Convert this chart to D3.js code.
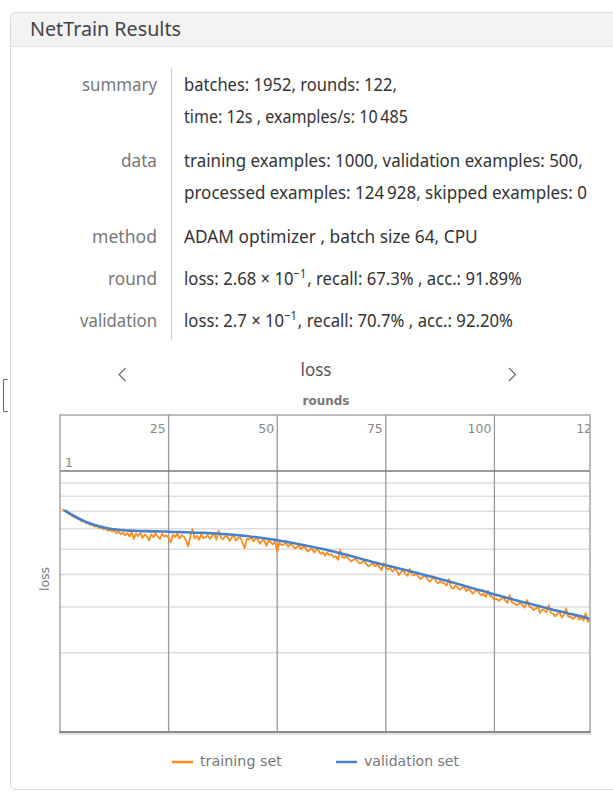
<!DOCTYPE html>
<html><head><meta charset="utf-8">
<script src="https://cdn.jsdelivr.net/npm/d3@7"></script>
<style>
html,body{margin:0;padding:0;background:#fff;}
svg{display:block;}
</style></head>
<body>
<script>
// ---------- data ----------
const roundTicks = [25, 50, 75, 100, 125];
const yMajorTicks = [1];
const yMinorGrid = [0.9, 0.8, 0.7, 0.6, 0.5, 0.4, 0.3, 0.2];
const totalRounds = 122;
const validationLoss = [
  .707,.690,.675,.661,.648,.637,.628,.620,.613,.607,
  .602,.598,.595,.593,.591,.590,.589,.588,.587,.587,
  .586,.586,.585,.585,.584,.583,.583,.582,.581,.580,
  .579,.579,.578,.577,.576,.575,.573,.572,.570,.568,
  .566,.564,.562,.559,.557,.554,.551,.548,.545,.542,
  .538,.535,.531,.527,.523,.519,.515,.511,.507,.503,
  .499,.494,.490,.485,.480,.476,.471,.466,.461,.456,
  .452,.447,.443,.438,.434,.430,.426,.422,.418,.414,
  .410,.406,.402,.398,.394,.390,.386,.382,.378,.374,
  .370,.366,.362,.358,.354,.350,.347,.343,.339,.335,
  .332,.328,.325,.322,.318,.315,.312,.309,.306,.303,
  .300,.297,.294,.291,.289,.286,.283,.281,.278,.276,
  .273,.270
];
// training loss, two readings per round (rounds 0.5, 1, 1.5, ... 122)
const trainingStep = 0.5;
const trainingLoss = [
  .712,.702,.696,.684,.679,.668,.664,.655,.651,.640,.640,.630,.630,.620,.622,.611,.614,.604,.606,.597,
  .601,.590,.594,.586,.589,.576,.585,.571,.580,.565,.577,.560,.581,.548,.574,.562,.578,.553,.570,.560,
  .541,.571,.556,.575,.561,.548,.573,.559,.566,.552,.532,.569,.558,.574,.549,.566,.560,.540,.513,.562,
  .598,.551,.563,.544,.570,.552,.556,.567,.548,.563,.575,.544,.590,.556,.546,.560,.562,.538,.555,.566,
  .540,.553,.556,.530,.504,.548,.545,.557,.536,.550,.548,.525,.539,.543,.515,.540,.532,.522,.535,.488,
  .530,.519,.521,.530,.512,.524,.518,.503,.509,.519,.500,.512,.506,.490,.498,.503,.486,.499,.495,.480,
  .487,.472,.485,.476,.478,.466,.470,.455,.497,.466,.463,.470,.458,.449,.455,.460,.448,.441,.445,.452,
  .438,.430,.436,.443,.430,.437,.427,.415,.442,.426,.418,.424,.410,.421,.414,.398,.409,.415,.402,.395,
  .420,.401,.396,.403,.392,.384,.390,.397,.386,.376,.381,.393,.378,.370,.376,.372,.370,.362,.384,.357,
  .352,.362,.358,.349,.355,.360,.345,.352,.347,.337,.344,.349,.339,.332,.337,.328,.346,.331,.328,.320,
  .323,.316,.322,.326,.318,.311,.333,.313,.311,.305,.308,.312,.304,.298,.319,.301,.299,.292,.296,.301,
  .284,.293,.291,.286,.305,.285,.283,.276,.282,.287,.273,.280,.296,.275,.276,.270,.273,.281,.268,.273,
  .266,.284,.263,.268
];
const seriesNames = ["training set", "validation set"];
const seriesColors = ["#ff8c1a", "#4a80c8"];

const infoLabels = ["summary", "data", "method", "round", "validation"];
const infoLines = [
  [["batches: 1952, rounds: 122,"], ["time: 12s , examples/s: 10\u2009485"]],
  [["training examples: 1000, validation examples: 500,"], ["processed examples: 124\u2009928, skipped examples: 0"]],
  [["ADAM optimizer , batch size 64, CPU"]],
  [["loss: 2.68 \u00d7 10", "\u22121", ", recall: 67.3% , acc.: 91.89%"]],
  [["loss: 2.7 \u00d7 10", "\u22121", ", recall: 70.7% , acc.: 92.20%"]]
];

// ---------- drawing ----------
const W = 613, H = 792;
const svg = d3.select("body").append("svg").attr("width", W).attr("height", H);
const txtFont = "'Noto Sans', 'Open Sans', sans-serif";

// panel
svg.append("path")
  .attr("d", "M630,12.5 H16.5 Q10.5,12.5 10.5,18.5 V783.5 Q10.5,789.5 16.5,789.5 H630")
  .attr("fill", "#fff").attr("stroke", "#d9d9d9");
svg.append("path")
  .attr("d", "M630,13 H16.5 Q11,13 11,18.5 V46 H630 Z")
  .attr("fill", "#f3f3f3");
svg.append("line").attr("x1", 11).attr("x2", 630).attr("y1", 46.5).attr("y2", 46.5).attr("stroke", "#e4e4e4");
svg.append("text").attr("x", 30).attr("y", 36).text("NetTrain Results")
  .attr("font-family", txtFont).attr("font-size", 19).attr("fill", "#444")
  .attr("textLength", 151).attr("lengthAdjust", "spacingAndGlyphs");

// bracket on the left
svg.append("path").attr("d", "M7.5,379.5 H3.5 V411.5 H7.5").attr("fill", "none").attr("stroke", "#666");

// info table
const rowBase = [[91, 123], [167, 199], [243], [285], [327]];
const labelW = [75, 36, 65, 49, 77];
const lineW = [[213, 224], [399, 403], [294], [338], [329]];
const labelX = 157, valueX = 184, fs = 18;
svg.append("line").attr("x1", 171.5).attr("x2", 171.5).attr("y1", 68).attr("y2", 340).attr("stroke", "#ccc");
infoLabels.forEach((lab, i) => {
  svg.append("text").attr("x", labelX - labelW[i]).attr("y", rowBase[i][0])
    .attr("font-family", txtFont).attr("font-size", fs).attr("fill", "#777")
    .attr("textLength", labelW[i]).attr("lengthAdjust", "spacingAndGlyphs").text(lab);
  infoLines[i].forEach((parts, j) => {
    // lay the parts out naturally, then squeeze the group horizontally to the measured width
    const grp = svg.append("g");
    let cx = 0;
    parts.forEach((p, k) => {
      const isSup = parts.length === 3 && k === 1;
      const t = grp.append("text").attr("x", cx).attr("y", isSup ? -7 : 0)
        .attr("font-family", txtFont).attr("font-size", isSup ? 12 : fs).attr("fill", "#333").text(p);
      cx += t.node().getComputedTextLength() + (isSup ? 1 : 0);
    });
    const k = lineW[i][j] / cx;
    grp.attr("transform", `translate(${valueX},${rowBase[i][j]}) scale(${k},1)`);
  });
});

// chart header
svg.append("text").attr("x", 316).attr("y", 376).attr("text-anchor", "middle")
  .attr("font-family", txtFont).attr("font-size", 18).attr("fill", "#555")
  .attr("textLength", 31).attr("lengthAdjust", "spacingAndGlyphs").text("loss");
svg.append("path").attr("d", "M125.5,368 L119,374.5 L125.5,381").attr("fill", "none").attr("stroke", "#666").attr("stroke-width", 1.1);
svg.append("path").attr("d", "M509,368 L515.5,374.5 L509,381").attr("fill", "none").attr("stroke", "#666").attr("stroke-width", 1.1);
svg.append("text").attr("x", 326).attr("y", 405).attr("text-anchor", "middle")
  .attr("font-family", "'DejaVu Sans', sans-serif").attr("font-size", 12).attr("font-weight", "bold")
  .attr("fill", "#777").text("rounds");

// plot frame
const L = 60, R = 590, T = 415, B = 732;
const x = d3.scaleLinear().domain([0, totalRounds]).range([L, R]);
const y = d3.scaleLog().domain([0.1, 1]).range([B - 1, 471]);

svg.append("clipPath").attr("id", "clip").append("rect")
  .attr("x", L).attr("y", T).attr("width", R - L).attr("height", B - T);
const g = svg.append("g").attr("clip-path", "url(#clip)");

g.selectAll("line.hg").data(yMinorGrid).join("line").attr("class", "hg")
  .attr("x1", L).attr("x2", R).attr("y1", d => y(d)).attr("y2", d => y(d))
  .attr("stroke", "#dedede").attr("stroke-width", 1.5);
g.selectAll("line.vg").data(roundTicks).join("line").attr("class", "vg")
  .attr("x1", d => x(d)).attr("x2", d => x(d)).attr("y1", T).attr("y2", B)
  .attr("stroke", "#9a9a9a").attr("stroke-width", 1.3);
g.selectAll("line.mg").data(yMajorTicks).join("line").attr("class", "mg")
  .attr("x1", L).attr("x2", R).attr("y1", d => y(d)).attr("y2", d => y(d))
  .attr("stroke", "#7a7a7a").attr("stroke-width", 1.5);

g.selectAll("text.xt").data(roundTicks).join("text").attr("class", "xt")
  .attr("x", d => x(d) - 3).attr("y", 433).attr("text-anchor", "end")
  .attr("font-family", "'DejaVu Sans', sans-serif").attr("font-size", 12.5).attr("fill", "#888")
  .text(d => d);
g.selectAll("text.yt").data(yMajorTicks).join("text").attr("class", "yt")
  .attr("x", L + 5).attr("y", d => y(d) - 4)
  .attr("font-family", "'DejaVu Sans', sans-serif").attr("font-size", 12.5).attr("fill", "#888")
  .text(d => d);

const trainPts = trainingLoss.map((v, i) => [(i + 1) * trainingStep, v]);
const valPts = validationLoss.map((v, i) => [i + 1, v]);
const line = d3.line().x(d => x(d[0])).y(d => y(d[1]));
g.append("path").datum(trainPts).attr("d", line).attr("fill", "none")
  .attr("stroke", seriesColors[0]).attr("stroke-width", 1.8).attr("stroke-linejoin", "round");
g.append("path").datum(valPts).attr("d", line).attr("fill", "none")
  .attr("stroke", seriesColors[1]).attr("stroke-width", 2.6).attr("stroke-linejoin", "round");

svg.append("rect").attr("x", L).attr("y", T).attr("width", R - L).attr("height", B - T)
  .attr("fill", "none").attr("stroke", "#999").attr("stroke-width", 1.3);
svg.append("line").attr("x1", L - 1).attr("x2", R + 1).attr("y1", B).attr("y2", B)
  .attr("stroke", "#8a8a8a").attr("stroke-width", 2);
svg.append("line").attr("x1", L - 1).attr("x2", R + 1).attr("y1", B + 2).attr("y2", B + 2)
  .attr("stroke", "#c8c8c8").attr("stroke-width", 1.2);

svg.append("text").attr("transform", "translate(49,579) rotate(-90)").attr("text-anchor", "middle")
  .attr("font-family", "'DejaVu Sans', sans-serif").attr("font-size", 12.5).attr("fill", "#777").text("loss");

// legend
const legX = [172, 336];
const legW = [82, 95];
seriesNames.forEach((n, i) => {
  svg.append("line").attr("x1", legX[i]).attr("x2", legX[i] + 21).attr("y1", 762).attr("y2", 762)
    .attr("stroke", seriesColors[i]).attr("stroke-width", 2.5);
  svg.append("text").attr("x", legX[i] + 28).attr("y", 766)
    .attr("font-family", "'DejaVu Sans', sans-serif").attr("font-size", 13.5).attr("fill", "#777")
    .attr("textLength", legW[i]).attr("lengthAdjust", "spacingAndGlyphs").text(n);
});
</script>
</body></html>
